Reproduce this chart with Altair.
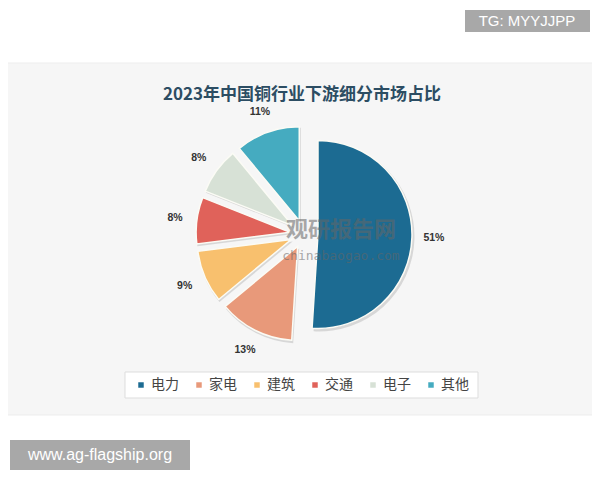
import altair as alt
import pandas as pd

title_text = "2023年中国铜行业下游细分市场占比"
categories = ["电力", "家电", "建筑", "交通", "电子", "其他"]
values = [51, 13, 9, 8, 8, 11]
colors = ["#1c6b92", "#e8997a", "#f8c06e", "#e0625a", "#d7e1d6", "#45abc0"]

df = pd.DataFrame({"category": categories, "value": values, "order": list(range(len(categories)))})
dummy = pd.DataFrame({"a": [0]})

CX, CY, R, D, LR = 296, 226, 94, 14, 130

base = (
    alt.Chart(df)
    .transform_window(cum="sum(value)", sort=[alt.SortField("order")])
    .transform_joinaggregate(total="sum(value)")
    .transform_calculate(
        start="2*PI*(datum.cum-datum.value)/datum.total",
        end="2*PI*datum.cum/datum.total",
    )
    .transform_calculate(mid="(datum.start+datum.end)/2")
    .transform_calculate(
        cx=f"{CX}+{D}*sin(datum.mid)",
        cy=f"{CY}-{D}*cos(datum.mid)",
        sx=f"{CX}+{D}*sin(datum.mid)+1.5",
        sy=f"{CY}-{D}*cos(datum.mid)+2",
        lx=f"{CX}+{LR}*sin(datum.mid)",
        ly=f"{CY}-{LR}*cos(datum.mid)",
        label="datum.value+'%'",
    )
)

panel = alt.Chart(dummy).mark_rect(fill="#f6f6f6", stroke="#ededed").encode(
    x=alt.value(-3), x2=alt.value(587), y=alt.value(55), y2=alt.value(407)
)

title = alt.Chart(dummy).mark_text(
    text=title_text, font="Noto Sans CJK SC", fontWeight="bold", fontSize=17, color="#2c4d63"
).encode(x=alt.value(294), y=alt.value(87))

shadow = base.mark_arc(radius=R + 1, fill="#d4d4d4", opacity=0.9).encode(
    theta=alt.Theta("start:Q", scale=None, stack=None),
    theta2="end:Q",
    x=alt.X("sx:Q", scale=None),
    y=alt.Y("sy:Q", scale=None),
)

arcs = base.mark_arc(radius=R, stroke="#fbfbf5", strokeWidth=1.5).encode(
    theta=alt.Theta("start:Q", scale=None, stack=None),
    theta2="end:Q",
    x=alt.X("cx:Q", scale=None),
    y=alt.Y("cy:Q", scale=None),
    color=alt.Color(
        "category:N",
        scale=alt.Scale(domain=categories, range=colors),
        legend=alt.Legend(
            title=None,
            orient="none",
            direction="horizontal",
            legendX=126,
            legendY=370,
            symbolType="square",
            symbolSize=30,
            symbolStrokeWidth=0,
            labelFont="Noto Sans CJK SC",
            labelFontSize=14,
            labelColor="#444444",
            columnPadding=13,
            labelOffset=3,
            padding=0,
        ),
    ),
)

labels = base.mark_text(
    font="Liberation Sans", fontWeight="bold", fontSize=10.5, color="#333333"
).encode(
    x=alt.X("lx:Q", scale=None),
    y=alt.Y("ly:Q", scale=None),
    text="label:N",
)

wm1 = alt.Chart(dummy).mark_text(
    text="观研报告网", font="Noto Sans CJK SC", fontWeight="bold", fontSize=22, color="#666666", opacity=0.55
).encode(x=alt.value(333), y=alt.value(222))
wm2 = alt.Chart(dummy).mark_text(
    text="chinabaogao.com", font="DejaVu Sans Mono", fontSize=13, color="#666666", opacity=0.55
).encode(x=alt.value(333), y=alt.value(248))

legend_box = alt.Chart(dummy).mark_rect(fill="#ffffff", stroke="#dddddd").encode(
    x=alt.value(117), x2=alt.value(470), y=alt.value(364), y2=alt.value(390)
)

tg_box = alt.Chart(dummy).mark_rect(fill="#a8a8a8").encode(
    x=alt.value(457), x2=alt.value(582), y=alt.value(2), y2=alt.value(24)
)
tg_text = alt.Chart(dummy).mark_text(
    text="TG: MYYJJPP", font="Liberation Sans", fontSize=15, color="#ffffff"
).encode(x=alt.value(519), y=alt.value(13))

ag_box = alt.Chart(dummy).mark_rect(fill="#a8a8a8").encode(
    x=alt.value(2), x2=alt.value(182), y=alt.value(432), y2=alt.value(462)
)
ag_text = alt.Chart(dummy).mark_text(
    text="www.ag-flagship.org", font="Liberation Sans", fontSize=16, color="#ffffff"
).encode(x=alt.value(92), y=alt.value(447))

chart = (
    alt.layer(panel, title, legend_box, shadow, arcs, labels, wm1, wm2, tg_box, tg_text, ag_box, ag_text)
    .properties(width=584, height=464, padding=0, autosize="none", background="#ffffff")
    .configure_view(stroke=None)
)

chart.save("out.html", embed_options={"renderer": "svg", "actions": False})
